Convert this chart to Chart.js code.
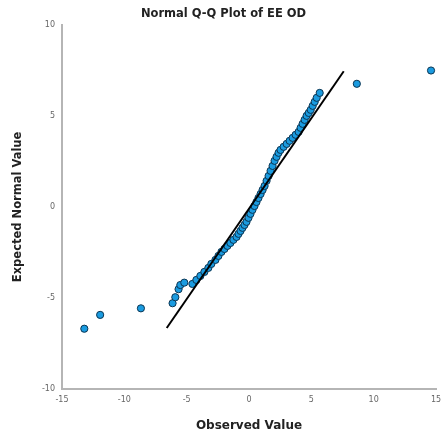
<!DOCTYPE html>
<html>
<head>
<meta charset="utf-8">
<script src="https://cdn.jsdelivr.net/npm/chart.js@4/dist/chart.umd.min.js"></script>
<style>
html,body{margin:0;padding:0;background:#fff;}
#wrap{width:443px;height:438px;}
</style>
</head>
<body>
<div id="wrap"><canvas id="c" width="443" height="438"></canvas></div>
<script>
// Observed values (x) and expected normal values (y)
const observed = [-13.21,-11.94,-8.67,-6.13,-5.91,-5.65,-5.51,-5.19,
  -4.54,-4.22,-3.90,-3.58,-3.26,-3.02,-2.69,-2.45,-2.21,-1.97,-1.73,-1.49,-1.25,-1.00,-0.84,-0.68,-0.52,-0.36,-0.20,-0.04,
  0.12,0.28,0.44,0.60,0.76,0.93,1.09,1.25,1.41,1.57,1.73,1.89,2.05,2.21,2.37,2.53,2.78,3.02,3.26,3.50,3.74,3.98,
  4.14,4.30,4.46,4.62,4.79,4.95,5.11,5.27,5.43,5.67,8.65,14.6];
const expected = [-6.69,-5.93,-5.57,-5.29,-4.96,-4.52,-4.29,-4.16,
  -4.23,-4.01,-3.79,-3.57,-3.35,-3.13,-2.91,-2.69,-2.47,-2.31,-2.14,-1.98,-1.81,-1.65,-1.48,-1.32,-1.15,-0.99,-0.82,-0.60,
  -0.38,-0.16,0.05,0.27,0.49,0.71,0.93,1.15,1.43,1.70,1.98,2.25,2.53,2.75,2.97,3.13,3.30,3.46,3.63,3.79,3.96,4.12,
  4.34,4.56,4.78,5.00,5.16,5.33,5.55,5.77,5.99,6.26,6.76,7.49];
// Reference line end points
const refLineX = [-6.6, 7.6];
const refLineY = [-6.65, 7.45];
const xTicks = [-15,-10,-5,0,5,10,15];
const yTicks = [-10,-5,0,5,10];

const pts = observed.map((v,i)=>({x:v,y:expected[i]}));
const linePts = refLineX.map((v,i)=>({x:v,y:refLineY[i]}));

new Chart(document.getElementById('c'), {
  type: 'scatter',
  data: {
    datasets: [
      {
        data: linePts, showLine: true, borderColor: '#000', borderWidth: 2,
        pointRadius: 0, fill: false, order: 0
      },
      {
        data: pts, backgroundColor: '#1a9be0', borderColor: '#0b3552', borderWidth: 1,
        pointRadius: 3.6, order: 1
      }
    ]
  },
  options: {
    responsive: false,
    animation: false,
    layout: { padding: { left: 11, right: 7, top: 0, bottom: 5 } },
    plugins: {
      legend: { display: false },
      tooltip: { enabled: false },
      title: {
        display: true,
        text: 'Normal Q-Q Plot of EE OD',
        color: '#222',
        font: { family: 'DejaVu Sans', size: 11.5, weight: 'bold' },
        padding: { top: 7, bottom: 4 }
      }
    },
    scales: {
      x: {
        type: 'linear', min: -15, max: 15,
        afterBuildTicks: s => { s.ticks = xTicks.map(v=>({value:v})); },
        afterFit: s => { s.height = 44; s.paddingRight = 0; s.paddingLeft = 0; },
        grid: { display: false, drawTicks: false },
        border: { display: true, color: '#b5b5b5', width: 2 },
        ticks: { color: '#666', font: { family: 'DejaVu Sans', size: 8 }, padding: 6, maxRotation: 0 },
        title: { display: true, text: 'Observed Value', color: '#222',
          font: { family: 'DejaVu Sans', size: 12, weight: 'bold' }, padding: { top: 2, bottom: 0 } }
      },
      y: {
        type: 'linear', min: -10, max: 10,
        afterBuildTicks: s => { s.ticks = yTicks.map(v=>({value:v})); },
        afterFit: s => { s.width = 51; s.paddingTop = 0; s.paddingBottom = 0; },
        grid: { display: false, drawTicks: false },
        border: { display: true, color: '#b5b5b5', width: 2 },
        ticks: { color: '#666', font: { family: 'DejaVu Sans', size: 8 }, padding: 7 },
        title: { display: true, text: 'Expected Normal Value', color: '#222',
          font: { family: 'DejaVu Sans', size: 11.5, weight: 'bold' }, padding: { top: 0, bottom: 0 } }
      }
    }
  }
});
</script>
</body>
</html>
